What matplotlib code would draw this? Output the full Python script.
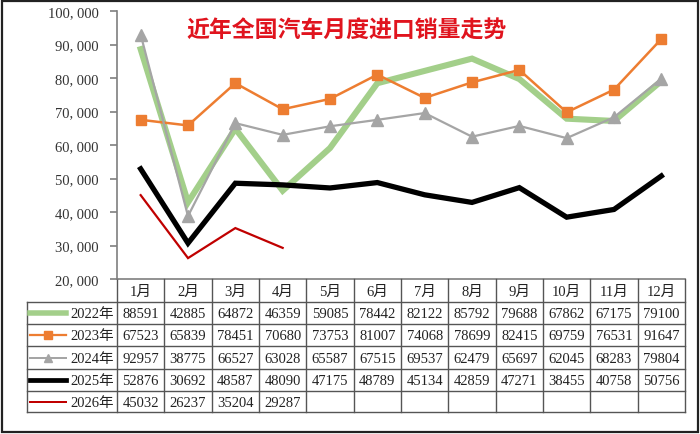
import matplotlib
matplotlib.use("Agg")
import matplotlib.pyplot as plt
from matplotlib.patches import Rectangle
from matplotlib.lines import Line2D

# ===============================
# DATA
# ===============================
months = ["1月", "2月", "3月", "4月", "5月", "6月",
          "7月", "8月", "9月", "10月", "11月", "12月"]
years = ["2022年", "2023年", "2024年", "2025年", "2026年"]

sales_2022 = [88591, 42885, 64872, 46359, 59085, 78442,
              82122, 85792, 79688, 67862, 67175, 79100]
sales_2023 = [67523, 65839, 78451, 70680, 73753, 81007,
              74068, 78699, 82415, 69759, 76531, 91647]
sales_2024 = [92957, 38775, 66527, 63028, 65587, 67515,
              69537, 62479, 65697, 62045, 68283, 79804]
sales_2025 = [52876, 30692, 48587, 48090, 47175, 48789,
              45134, 42859, 47271, 38455, 40758, 50756]
sales_2026 = [45032, 26237, 35204, 29287]

y_ticks = [20000, 30000, 40000, 50000, 60000, 70000, 80000, 90000, 100000]

# ===============================
# STYLE
# ===============================
plt.rcParams["font.family"] = ["Liberation Serif", "Noto Sans CJK SC"]

styles = [
    dict(color="#a3cf8a", lw=4.4, marker=None, ms=0),
    dict(color="#ed7d31", lw=1.8, marker="s", ms=7.5),
    dict(color="#a5a5a5", lw=1.6, marker="^", ms=8),
    dict(color="#000000", lw=3.8, marker=None, ms=0),
    dict(color="#c00000", lw=1.6, marker=None, ms=0),
]
series = [sales_2022, sales_2023, sales_2024, sales_2025, sales_2026]

W, H = 700, 435
X0, X1 = 117, 685      # plot / table columns
Y_TOP, Y_AX = 12, 280  # plot area
ROW_Y = [280, 303, 325, 347, 370, 392, 413]
LEFT = 27
GRID_C = "#555555"

fig = plt.figure(figsize=(W / 100, H / 100), dpi=100)

# overlay in pixel coordinates for the table
tab = fig.add_axes([0, 0, 1, 1])
tab.set_xlim(0, W)
tab.set_ylim(H, 0)
tab.axis("off")

ax = fig.add_axes([X0 / W, 1 - Y_AX / H, (X1 - X0) / W, (Y_AX - Y_TOP) / H])
ax.patch.set_alpha(0)

x = list(range(len(months)))
for vals, st in zip(series, styles):
    ax.plot(x[:len(vals)], vals, color=st["color"], lw=st["lw"],
            marker=st["marker"], ms=st["ms"], solid_joinstyle="miter")

ax.set_xlim(-0.5, len(months) - 0.5)
ax.set_ylim(20000, 100000)
ax.set_yticks(y_ticks)
ax.set_yticklabels([f"{v:,}".replace(",", ", ") for v in y_ticks], fontsize=10.5)
ax.set_xticks([])
for s in ["top", "right", "bottom"]:
    ax.spines[s].set_visible(False)
ax.spines["left"].set_color("#7f7f7f")
ax.spines["left"].set_linewidth(1.2)
ax.tick_params(axis="y", length=5, color="#7f7f7f", width=1.2, pad=8,
               labelcolor="#333333")

ax.text(0.405, 0.93, "近年全国汽车月度进口销量走势", transform=ax.transAxes,
        ha="center", va="center", fontsize=16.5, fontweight="bold",
        color="#e0141e", family=["Noto Sans CJK SC"])

# ===============================
# TABLE
# ===============================
cw = (X1 - X0) / len(months)
lk = dict(color=GRID_C, lw=1.0)

# horizontal lines
tab.plot([X0, X1], [ROW_Y[0], ROW_Y[0]], color="#7f7f7f", lw=1.2)
for yy in ROW_Y[1:]:
    tab.plot([LEFT, X1], [yy, yy], **lk)
# vertical lines
tab.plot([LEFT, LEFT], [ROW_Y[1], ROW_Y[-1]], **lk)
for i in range(len(months) + 1):
    tab.plot([X0 + i * cw] * 2, [ROW_Y[0], ROW_Y[-1]], **lk)

# header
for i, m in enumerate(months):
    tab.text(X0 + (i + 0.5) * cw, (ROW_Y[0] + ROW_Y[1]) / 2 + 1, m,
             ha="center", va="center", fontsize=10.5, color="#222222")

# rows
for r, (yr, vals, st) in enumerate(zip(years, series, styles)):
    yc = (ROW_Y[r + 1] + ROW_Y[r + 2]) / 2 + 1
    tab.add_line(Line2D([30, 66], [yc - 1, yc - 1], color=st["color"],
                        lw=st["lw"] * 0.9))
    if st["marker"]:
        tab.plot([48], [yc - 1], marker=st["marker"], color=st["color"],
                 ms=st["ms"] * 0.7)
    tab.text(X0 - 3, yc, yr, ha="right", va="center", fontsize=10.5,
             color="#222222")
    for i, v in enumerate(vals):
        tab.text(X0 + (i + 0.5) * cw, yc, str(v), ha="center", va="center",
                 fontsize=10.5, color="#222222")

# outer border
tab.add_patch(Rectangle((1.5, 1.5), W - 4, H - 4, fill=False,
                        edgecolor="#222222", lw=1.6))

fig.savefig("out.png", dpi=100)
